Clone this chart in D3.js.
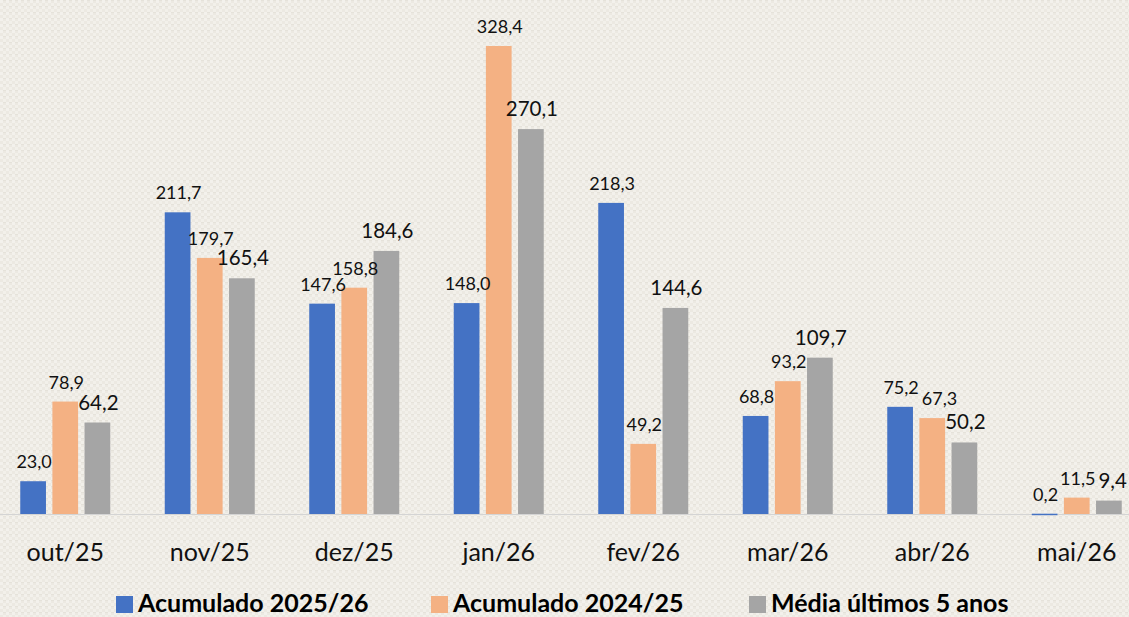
<!DOCTYPE html>
<html>
<head>
<meta charset="utf-8">
<script src="https://cdn.jsdelivr.net/npm/d3@7"></script>
<style>
  html, body { margin: 0; padding: 0; background: #ece9e2; }
  svg { display: block; font-family: Lato, "Open Sans", sans-serif; }
</style>
</head>
<body>
<div id="chart"></div>
<script>
const months = ["out/25", "nov/25", "dez/25", "jan/26", "fev/26", "mar/26", "abr/26", "mai/26"];
const acum2526 = [23.0, 211.7, 147.6, 148.0, 218.3, 68.8, 75.2, 0.2];
const acum2425 = [78.9, 179.7, 158.8, 328.4, 49.2, 93.2, 67.3, 11.5];
const media5 = [64.2, 165.4, 184.6, 270.1, 144.6, 109.7, 50.2, 9.4];
const seriesNames = ["Acumulado 2025/26", "Acumulado 2024/25", "Média últimos 5 anos"];

const width = 1129, height = 617;
const baseY = 514;

// fixed colours per series, Excel-ish
const color = d3.scaleOrdinal()
    .domain(seriesNames)
    .range(["#4472c4", "#f4b183", "#a5a5a5"]);

const series = [
    { name: seriesNames[0], values: acum2526, fs: 18 },
    { name: seriesNames[1], values: acum2425, fs: 18 },
    { name: seriesNames[2], values: media5, fs: 20.5 }
];

const rows = months.map((m, i) => ({
    month: m,
    vals: series.map(s => ({ name: s.name, v: s.values[i], fs: s.fs }))
}));

const svg = d3.select("#chart").append("svg")
    .attr("width", width)
    .attr("height", height);

// linen-like background texture
const defs = svg.append("defs");
const pat = defs.append("pattern")
    .attr("id", "linen")
    .attr("width", 6).attr("height", 6)
    .attr("patternUnits", "userSpaceOnUse");
pat.append("rect").attr("width", 6).attr("height", 6).attr("fill", "#ece9e2");
pat.append("rect").attr("x", 0).attr("y", 0).attr("width", 3).attr("height", 3).attr("fill", "#f3f1ec");
pat.append("rect").attr("x", 3).attr("y", 3).attr("width", 3).attr("height", 3).attr("fill", "#f2f0ea");
pat.append("rect").attr("x", 3).attr("y", 0).attr("width", 3).attr("height", 1).attr("fill", "#e5e2da");

svg.append("rect")
    .attr("width", width).attr("height", height)
    .attr("fill", "url(#linen)");

const x0 = d3.scaleBand()
    .domain(months)
    .range([-7, 1149])
    .paddingInner(0)
    .paddingOuter(0);

const x1 = d3.scaleBand()
    .domain(seriesNames)
    .range([x0.bandwidth() / 2 - 45, x0.bandwidth() / 2 + 45])
    .paddingInner(0.2)
    .paddingOuter(0);

const y = d3.scaleLinear()
    .domain([0, 328.4])
    .range([baseY, 46]);

// baseline
svg.append("line")
    .attr("x1", 0).attr("x2", width)
    .attr("y1", baseY + 0.5).attr("y2", baseY + 0.5)
    .attr("stroke", "#d4d4d4")
    .attr("stroke-width", 1);

const groups = svg.selectAll("g.month")
    .data(rows)
    .enter()
    .append("g")
    .attr("class", "month")
    .attr("transform", d => `translate(${x0(d.month)},0)`);

groups.selectAll("rect")
    .data(d => d.vals)
    .enter()
    .append("rect")
    .attr("x", d => x1(d.name))
    .attr("y", d => y(d.v))
    .attr("width", x1.bandwidth())
    .attr("height", d => Math.max(1.5, baseY - y(d.v)))
    .attr("fill", d => color(d.name));

// value labels
groups.selectAll("text.val")
    .data(d => d.vals)
    .enter()
    .append("text")
    .attr("class", "val")
    .attr("x", d => x1(d.name) + x1.bandwidth() / 2 + 1)
    .attr("y", d => y(d.v) - 13)
    .attr("text-anchor", "middle")
    .style("font-size", d => d.fs + "px")
    .style("fill", "#111")
    .text(d => d3.format(".1f")(d.v).replace(".", ","));

// nudge labels right when they really collide with the previous one
groups.each(function () {
    const labels = d3.select(this).selectAll("text.val").nodes();
    for (let i = 1; i < labels.length; i++) {
        const a = labels[i - 1].getBBox(), b = labels[i].getBBox();
        const yOver = a.y < b.y + b.height - 9 && b.y < a.y + a.height - 9;
        const xOver = a.x + a.width + 3 - b.x;
        if (yOver && xOver > 0) {
            labels[i].setAttribute("x", +labels[i].getAttribute("x") + xOver);
        }
    }
});

// category labels
svg.selectAll("text.cat")
    .data(months)
    .enter()
    .append("text")
    .attr("class", "cat")
    .attr("x", d => x0(d) + x0.bandwidth() / 2)
    .attr("y", 561)
    .attr("text-anchor", "middle")
    .style("font-size", "25px")
    .style("fill", "#111")
    .text(d => d);

// legend
const legendX = [116, 431, 749];
const legend = svg.selectAll("g.legend")
    .data(seriesNames)
    .enter()
    .append("g")
    .attr("class", "legend")
    .attr("transform", (d, i) => `translate(${legendX[i]}, 596)`);

legend.append("rect")
    .attr("width", 17)
    .attr("height", 17)
    .attr("fill", d => color(d));

legend.append("text")
    .attr("x", 22)
    .attr("y", 16)
    .style("font-size", "25px")
    .style("font-weight", "bold")
    .style("fill", "#000")
    .text(d => d);
</script>
</body>
</html>
